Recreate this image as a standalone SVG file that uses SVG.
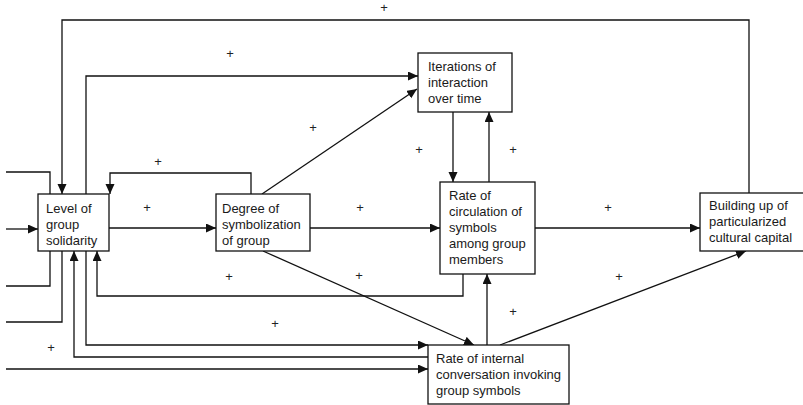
<svg xmlns="http://www.w3.org/2000/svg" width="803" height="405" viewBox="0 0 803 405">
  <style>
    .box { fill: #fff; stroke: #111; stroke-width: 1.3; }
    .lbl { font-family: "Liberation Sans", Arial, sans-serif; font-size: 13px; fill: #1a1a1a; }
    .sign { font-family: "Liberation Sans", Arial, sans-serif; font-size: 13px; fill: #222; text-anchor: middle; }
    .wire { fill: none; stroke: #111; stroke-width: 1.3; }
    .arr { marker-end: url(#head); }
  </style>
  <defs>
    <marker id="head" markerUnits="userSpaceOnUse" markerWidth="11" markerHeight="10" refX="10" refY="4.5" orient="auto">
      <path d="M0,0 L10,4.5 L0,9 z" fill="#111"/>
    </marker>
  </defs>
  <rect width="803" height="405" fill="#fff"/>

  <g id="connectors">
    <!-- long feedback from cultural capital back to solidarity -->
    <polyline class="wire arr" points="749,193 749,20 62,20 62,194"/>
    <!-- solidarity to iterations -->
    <polyline class="wire arr" points="86,194 86,76 418,76"/>
    <!-- symbolization back to solidarity -->
    <polyline class="wire arr" points="251,194 251,173 110,173 110,194"/>
    <!-- external inputs on the left edge -->
    <polyline class="wire" points="6,172 50,172 50,194"/>
    <line class="wire arr" x1="6" y1="229" x2="38" y2="229"/>
    <polyline class="wire" points="50,251 50,286 6,286"/>
    <polyline class="wire" points="62,251 62,322 6,322"/>
    <line class="wire arr" x1="6" y1="369" x2="428" y2="369"/>
    <!-- main horizontal chain -->
    <line class="wire arr" x1="109" y1="228" x2="216" y2="228"/>
    <line class="wire arr" x1="310" y1="228" x2="440" y2="228"/>
    <line class="wire arr" x1="535" y1="228" x2="700" y2="228"/>
    <!-- symbolization to iterations and to internal conversation -->
    <line class="wire arr" x1="262" y1="194" x2="417" y2="89"/>
    <line class="wire arr" x1="263" y1="251" x2="474" y2="345"/>
    <!-- iterations <-> circulation -->
    <line class="wire arr" x1="453" y1="112" x2="453" y2="182"/>
    <line class="wire arr" x1="489" y1="182" x2="489" y2="112"/>
    <!-- circulation back to solidarity -->
    <polyline class="wire arr" points="463,274 463,296 97,296 97,251"/>
    <!-- solidarity <-> internal conversation -->
    <polyline class="wire arr" points="86,251 86,345 428,345"/>
    <polyline class="wire arr" points="428,357 74,357 74,251"/>
    <!-- internal conversation to circulation and cultural capital -->
    <line class="wire arr" x1="487" y1="345" x2="487" y2="274"/>
    <line class="wire arr" x1="500" y1="345" x2="746" y2="251"/>
  </g>

  <g id="signs">
    <text class="sign" x="384" y="12">+</text>
    <text class="sign" x="230" y="58">+</text>
    <text class="sign" x="158" y="166">+</text>
    <text class="sign" x="147" y="212">+</text>
    <text class="sign" x="313" y="132">+</text>
    <text class="sign" x="419" y="154">+</text>
    <text class="sign" x="513" y="154">+</text>
    <text class="sign" x="360" y="212">+</text>
    <text class="sign" x="608" y="212">+</text>
    <text class="sign" x="229" y="281">+</text>
    <text class="sign" x="359" y="280">+</text>
    <text class="sign" x="275" y="328">+</text>
    <text class="sign" x="51" y="352">+</text>
    <text class="sign" x="513" y="316">+</text>
    <text class="sign" x="619" y="281">+</text>
  </g>

  <g id="solidarity">
    <rect class="box" x="38" y="194" width="71" height="57"/>
    <text class="lbl" x="46" y="213">Level of</text>
    <text class="lbl" x="46" y="229">group</text>
    <text class="lbl" x="46" y="245">solidarity</text>
  </g>

  <g id="symbolization">
    <rect class="box" x="216" y="194" width="94" height="57"/>
    <text class="lbl" x="222" y="213">Degree of</text>
    <text class="lbl" x="222" y="229">symbolization</text>
    <text class="lbl" x="222" y="245">of group</text>
  </g>

  <g id="iterations">
    <rect class="box" x="418" y="53" width="94" height="59"/>
    <text class="lbl" x="428" y="71">Iterations of</text>
    <text class="lbl" x="428" y="87">interaction</text>
    <text class="lbl" x="428" y="103">over time</text>
  </g>

  <g id="circulation">
    <rect class="box" x="440" y="182" width="95" height="92"/>
    <text class="lbl" x="449" y="200">Rate of</text>
    <text class="lbl" x="449" y="216">circulation of</text>
    <text class="lbl" x="449" y="232">symbols</text>
    <text class="lbl" x="449" y="248">among group</text>
    <text class="lbl" x="449" y="264">members</text>
  </g>

  <g id="capital">
    <rect class="box" x="700" y="193" width="110" height="58"/>
    <text class="lbl" x="709" y="210">Building up of</text>
    <text class="lbl" x="709" y="226">particularized</text>
    <text class="lbl" x="709" y="242">cultural capital</text>
  </g>

  <g id="conversation">
    <rect class="box" x="428" y="345" width="141" height="59"/>
    <text class="lbl" x="436" y="363">Rate of internal</text>
    <text class="lbl" x="436" y="379">conversation invoking</text>
    <text class="lbl" x="436" y="395">group symbols</text>
  </g>
</svg>
